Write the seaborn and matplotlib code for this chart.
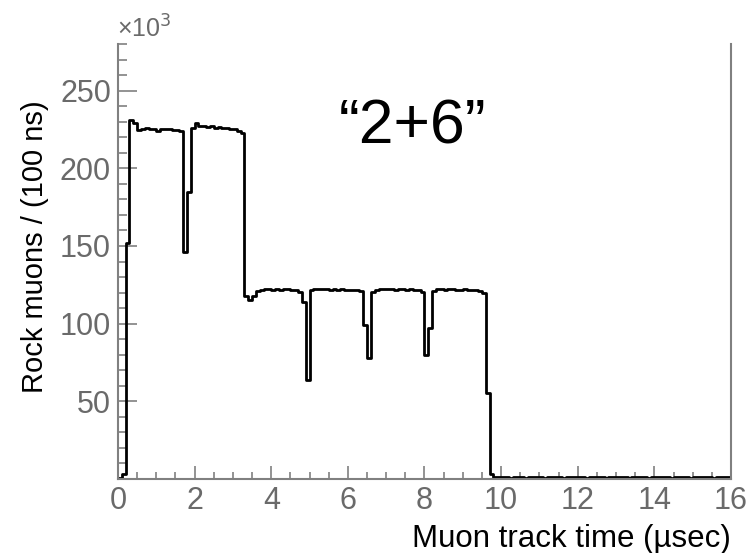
import numpy as np
import pandas as pd
import matplotlib
matplotlib.use("Agg")
import matplotlib.pyplot as plt
import seaborn as sns
from matplotlib.ticker import MultipleLocator

# ---- data (thousands of rock muons per 100 ns bin) ----
bin_width = 0.1  # microseconds
counts_k = (
    [0.5, 3.0, 152.0, 231.0, 229.0]
    + [224.5, 225.0, 226.0, 225.5, 225.0, 224.0, 225.5, 225.0, 225.0, 224.5, 224.5, 224.0]
    + [146.0, 185.0, 226.0, 229.0, 227.0]
    + [227.0, 226.5, 227.0, 226.0, 226.5, 226.0, 226.0, 225.5, 225.5, 224.0, 223.0]
    + [117.5, 115.0, 118.0]
    + [121.0, 121.5, 122.0, 122.0, 121.5, 122.0, 121.5, 122.0, 122.0, 121.5, 121.5, 120.5]
    + [114.0, 64.0]
    + [121.5, 122.0, 122.5, 122.5, 122.0, 121.5, 122.0, 121.5, 122.0, 121.5, 121.5, 121.5, 121.5, 121.0]
    + [99.0, 78.0]
    + [120.5, 121.5, 122.0, 122.0, 122.5, 122.0, 121.5, 122.0, 122.0, 121.5, 122.0, 121.5, 121.5, 120.5]
    + [80.0, 97.0]
    + [121.0, 122.0, 122.0, 121.5, 122.0, 122.0, 121.5, 121.5, 122.0, 121.5, 121.5, 121.5, 121.0, 120.0]
    + [55.5, 3.0, 1.5]
    + [1.2, 1.0, 1.1, 0.9, 1.0, 1.2, 1.0, 0.9, 1.1, 1.0,
       1.0, 1.1, 0.9, 1.0, 1.2, 1.0, 1.0, 0.9, 1.1, 1.0,
       1.0, 1.2, 1.0, 0.9, 1.0, 1.1, 1.0, 1.0, 0.9, 1.1,
       1.0, 1.0, 1.2, 1.0, 0.9, 1.0, 1.1, 1.0, 1.0, 0.9,
       1.1, 1.0, 1.0, 1.2, 1.0, 0.9, 1.0, 1.1, 1.0, 1.0,
       0.9, 1.1, 1.0, 1.0, 1.2, 1.0, 0.9, 1.0, 1.1, 1.0, 1.0]
)
n_bins = len(counts_k)
bin_centers = [(i + 0.5) * bin_width for i in range(n_bins)]

x_ticks = [0, 2, 4, 6, 8, 10, 12, 14, 16]
y_ticks = [50, 100, 150, 200, 250]

df = pd.DataFrame({"time": bin_centers, "muons": counts_k})

# ---- figure ----
sns.set_style("white")
plt.rcParams["font.family"] = ["Liberation Sans", "DejaVu Sans"]

W, H, DPI = 748, 553, 100
fig = plt.figure(figsize=(W / DPI, H / DPI), dpi=DPI)
ax = fig.add_axes([118 / W, 1 - 479 / H, (731 - 118) / W, (479 - 44) / H])

sns.histplot(data=df, x="time", weights="muons", bins=n_bins, binrange=(0, 16),
             element="step", fill=False, color="black", linewidth=2.0, ax=ax)

ax.set_xlim(0, 16)
ax.set_ylim(0, 280)

gray = "#808080"
for side in ["left", "bottom", "right"]:
    ax.spines[side].set_color(gray)
    ax.spines[side].set_linewidth(1.5)
ax.spines["top"].set_visible(False)

ax.set_xticks(x_ticks)
ax.set_xticklabels([str(v) for v in x_ticks])
ax.set_yticks(y_ticks)
ax.set_yticklabels([str(v) for v in y_ticks])
ax.xaxis.set_minor_locator(MultipleLocator(0.5))
ax.yaxis.set_minor_locator(MultipleLocator(10))

ax.tick_params(which="both", bottom=True, left=True, top=False, right=False)
ax.tick_params(axis="x", which="major", direction="in", length=9.5, width=1.2,
               color=gray, labelcolor="#6a6a6a", labelsize=22, pad=5)
ax.tick_params(axis="x", which="minor", direction="in", length=4.8, width=1.2, color=gray)
ax.tick_params(axis="y", which="major", direction="in", length=13.5, width=1.2,
               color=gray, labelcolor="#6a6a6a", labelsize=22, pad=5)
ax.tick_params(axis="y", which="minor", direction="in", length=6.8, width=1.2, color=gray)

ax.set_xlabel("Muon track time (\u00b5sec)", fontsize=22.5, color="black", loc="right", labelpad=6)
ax.set_ylabel("Rock muons / (100 ns)", fontsize=21, color="black")
ax.yaxis.set_label_coords(-0.112, 0.535)

fig.text(117 / W, 1 - 38 / H, "\u00d710$^3$", fontsize=18, color="#6a6a6a",
         ha="left", va="baseline")
ax.text(0.48, 0.81, "\u201c2+6\u201d", transform=ax.transAxes, fontsize=45,
        color="black", ha="center", va="center")

fig.savefig("out.png", dpi=DPI)
